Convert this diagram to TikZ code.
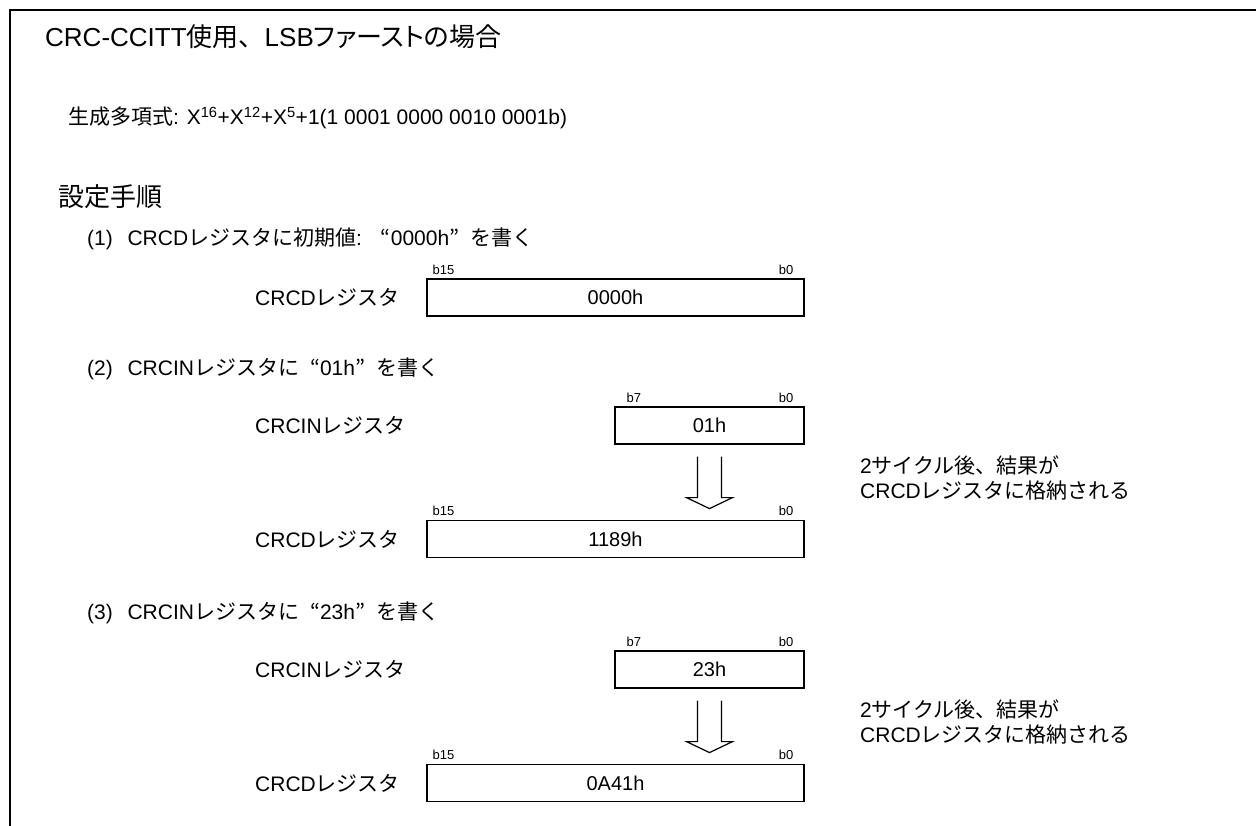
\documentclass[tikz,border=0pt]{standalone}
\usepackage{fontspec}
\setmainfont{Liberation Sans}
\newfontfamily\jp{Noto Sans CJK JP}
\newfontfamily\jpp[RawFeature=+palt]{Noto Sans CJK JP}
\usetikzlibrary{calc}

\newcommand{\ja}[1]{{\jp #1}}
\newcommand{\jap}[1]{{\jpp #1}}
\newcommand{\oq}{\makebox[1em][r]{\jp “}}
\newcommand{\cq}{\makebox[1em][l]{\jp ”}}

\begin{document}
\begin{tikzpicture}[x=1pt,y=-1pt,
  heading/.style={anchor=west,inner sep=0pt,font=\fontsize{26}{30}\selectfont},
  subhead/.style={anchor=west,inner sep=0pt,font=\fontsize{26}{30}\selectfont},
  body/.style={anchor=west,inner sep=0pt,font=\fontsize{21}{25}\selectfont},
  regname/.style={anchor=west,inner sep=0pt,font=\fontsize{21}{25}\selectfont},
  reg/.style={draw,line width=1.2pt,minimum height=37pt,inner sep=0pt,font=\fontsize{20}{24}\selectfont},
  bit/.style={inner sep=0pt,font=\fontsize{13}{15}\selectfont},
  notetext/.style={anchor=west,inner sep=0pt,align=left,font=\fontsize{21}{25}\selectfont}]
  \useasboundingbox (0,0) rectangle (1256,825);
  \draw[line width=1.8pt] (10,830) |- (1260,10);

  \node[heading] (ttl) at (45,37) {CRC-CCITT\ja{使用、}LSB\jap{ファーストの場合}};
  \node[body] (poly) at (68,118) {\ja{生成多項式}: X\textsuperscript{16}+X\textsuperscript{12}+X\textsuperscript{5}+1(1 0001 0000 0010 0001b)};
  \node[subhead] (proc) at (58,197) {\ja{設定手順}};

  % (1) initial value
  \node[body] (step1) at (87,239) {(1)\hspace{0.7em}CRCD\ja{レジスタに初期値}: \oq0000h\cq\ja{を書く}};
  \node[regname] (name1) at (255,297.5) {CRCD\ja{レジスタ}};
  \node[reg,minimum width=377pt] (crcd1) at (615.5,297.5) {0000h};
  \node[bit,anchor=south west,xshift=6pt,yshift=4pt] (hi1) at (crcd1.north west) {b15};
  \node[bit,anchor=south east,xshift=-11pt,yshift=4pt] (lo1) at (crcd1.north east) {b0};

  % (2), (3) input byte and result
  \foreach \n/\dy/\inv/\outv in {2/0/01h/1189h,3/244/23h/0A41h}{
    \node[body] (step\n) at (87,369+\dy) {(\n)\hspace{0.7em}CRCIN\ja{レジスタに}\oq\inv\cq\ja{を書く}};
    \node[regname] (inname\n) at (255,425.5+\dy) {CRCIN\ja{レジスタ}};
    \node[reg,minimum width=189pt] (in\n) at (709.5,425.5+\dy) {\inv};
    \node[bit,anchor=south west,xshift=12pt,yshift=4pt] (inhi\n) at (in\n.north west) {b7};
    \node[bit,anchor=south east,xshift=-11pt,yshift=4pt] (inlo\n) at (in\n.north east) {b0};
    \node[regname] (outname\n) at (255,539+\dy) {CRCD\ja{レジスタ}};
    \node[reg,minimum width=377pt] (out\n) at (615.5,539+\dy) {\outv};
    \node[bit,anchor=south west,xshift=6pt,yshift=4pt] (outhi\n) at (out\n.north west) {b15};
    \node[bit,anchor=south east,xshift=-11pt,yshift=4pt] (outlo\n) at (out\n.north east) {b0};
    \draw[line width=1.2pt] ($(in\n.south)+(-12,12)$) -- ($(in\n.south)+(-12,53)$)
      -- ($(in\n.south)+(-23,53)$) -- ($(in\n.south)+(0,64)$)
      -- ($(in\n.south)+(23,53)$) -- ($(in\n.south)+(12,53)$) -- ($(in\n.south)+(12,12)$);
    \node[notetext] (note\n) at (860,477.5+\dy) {2\ja{サイクル後、結果が}\\CRCD\ja{レジスタに格納される}};
  }
\end{tikzpicture}
\end{document}
